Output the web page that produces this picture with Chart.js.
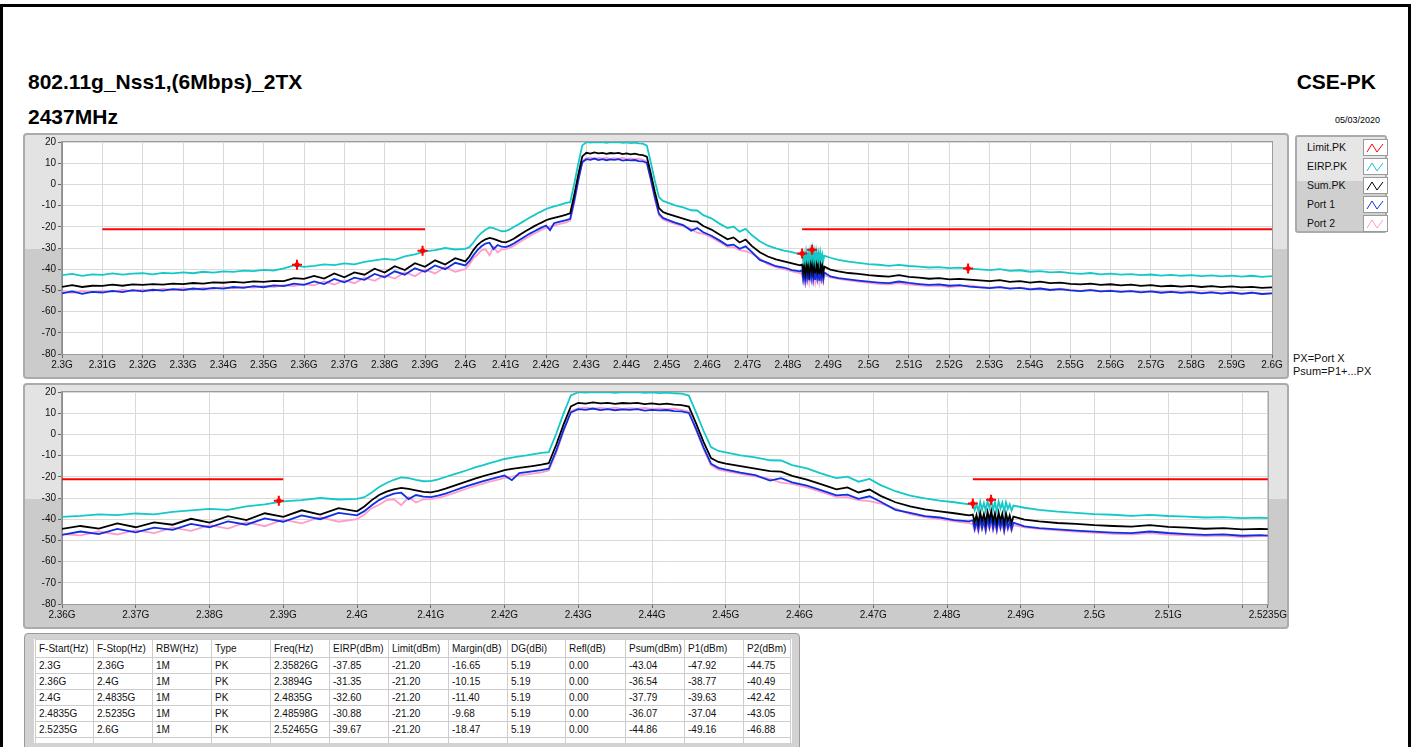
<!DOCTYPE html>
<html>
<head>
<meta charset="utf-8">
<script src="https://cdn.jsdelivr.net/npm/chart.js@4.4.1/dist/chart.umd.min.js"></script>
<style>
  body { margin: 0; width: 1415px; height: 747px; overflow: hidden; background: #fff; position: relative; font-family: "Liberation Sans", Arial, sans-serif; }
  .abs { position: absolute; }
  .frame { left: 0; top: 4px; width: 1405px; height: 760px; border: 3px solid #000; border-bottom: none; }
  .title { font-weight: bold; font-size: 21px; line-height: 24px; white-space: nowrap; }
  .panel { box-sizing: border-box; border: 2px solid #ababab; border-radius: 4px; background: linear-gradient(#e3e3e3 0, #e3e3e3 114px, #cbcbcb 114px); }
  .legend { left: 1295px; top: 135px; width: 92px; height: 98px; box-sizing: border-box; border: 2px solid #ababab; border-radius: 3px; background: linear-gradient(#e6e6e6 0, #e6e6e6 44px, #cfcfcf 44px); }
  .legend .row { position: absolute; left: 10px; height: 19px; font-size: 10.5px; line-height: 19px; color: #111; }
  .legend svg { position: absolute; left: 56px; top: 1px; background: #fff; border: 1px solid #9a9a9a; }
  .note { font-size: 11px; line-height: 13px; color: #111; white-space: nowrap; }
  .tbox { left: 24px; top: 633px; width: 776px; height: 120px; box-sizing: border-box; border: 1px solid #9a9a9a; border-radius: 4px; background: #d2d2d2; }
  .tinner { left: 34px; top: 639px; width: 758px; height: 104px; background: #fff; overflow: hidden; }
  table { border-collapse: collapse; table-layout: fixed; font-size: 10px; color: #111; margin-left: 1px; }
  td { border: 1px solid #cdcdcd; padding: 0 0 0 3px; height: 15px; line-height: 14px; white-space: nowrap; overflow: hidden; }
  tr.head td { height: 17px; }
</style>
</head>
<body>
<div class="abs frame"></div>
<div class="abs title" style="left:28px; top:70px;">802.11g_Nss1,(6Mbps)_2TX</div>
<div class="abs title" style="left:28px; top:105px;">2437MHz</div>
<div class="abs title" style="right:39px; top:70px;">CSE-PK</div>
<div class="abs" style="right:35px; top:115px; font-size:9px; line-height:11px;">05/03/2020</div>

<div class="abs panel" style="left:23px; top:133px; width:1266px; height:246px;"></div>
<canvas id="topChart" class="abs" style="left:24px; top:134px;" width="1264" height="245"></canvas>

<div class="abs panel" style="left:23px; top:383px; width:1266px; height:246px;"></div>
<canvas id="bottomChart" class="abs" style="left:24px; top:384px;" width="1264" height="245"></canvas>

<div class="abs legend" id="legend"></div>
<div class="abs note" style="left:1293px; top:352px;">PX=Port X</div>
<div class="abs note" style="left:1293px; top:365px;">Psum=P1+...PX</div>

<div class="abs tbox"></div>
<div class="abs tinner"><table id="peakTable"></table></div>

<script>
// Frequency points of the sweep (GHz)
const freqGHz = [
  2.3, 2.3025, 2.305, 2.3075, 2.31, 2.3125, 2.315, 2.3175, 2.32, 2.3225, 2.325, 2.3275, 2.33, 2.3325, 2.335, 2.3375, 2.34, 2.3425, 2.345, 2.3475, 2.35, 2.3525, 2.355, 2.3575, 2.36, 2.3625, 2.365, 2.3675, 2.37, 2.3725, 2.375, 2.3775, 2.38, 2.3825, 2.385, 2.3875, 2.39, 2.3925, 2.395, 2.3975, 2.4,
  2.401, 2.402, 2.403, 2.404, 2.405, 2.406, 2.407, 2.408, 2.409, 2.41, 2.411, 2.412, 2.413, 2.414, 2.415, 2.416, 2.417, 2.418, 2.419, 2.42, 2.421, 2.422, 2.423, 2.424, 2.425,
  2.426, 2.427, 2.428, 2.429, 2.43, 2.431, 2.432, 2.433, 2.434, 2.435, 2.436, 2.437, 2.438, 2.439, 2.44, 2.441, 2.442, 2.443, 2.444, 2.445, 2.446, 2.447, 2.448,
  2.449, 2.45, 2.452, 2.454, 2.456, 2.4575, 2.459, 2.461, 2.463, 2.465, 2.4665, 2.468, 2.4695, 2.471, 2.473, 2.475, 2.477, 2.479, 2.481, 2.483,
  2.4835, 2.48375, 2.484, 2.48425, 2.4845, 2.48475, 2.485, 2.48525, 2.4855, 2.48575, 2.486, 2.48625, 2.4865, 2.48675, 2.487, 2.48725, 2.4875, 2.48775, 2.488, 2.48825, 2.4885, 2.48875, 2.489,
  2.4905, 2.4925, 2.495, 2.4975, 2.5, 2.5025, 2.505, 2.5075, 2.51, 2.5125, 2.515, 2.5175, 2.52, 2.5225, 2.525, 2.5275, 2.53, 2.5325, 2.535, 2.5375, 2.54, 2.5425, 2.545, 2.5475, 2.55, 2.5525, 2.555, 2.5575, 2.56, 2.5625, 2.565, 2.5675, 2.57, 2.5725, 2.575, 2.5775, 2.58, 2.5825, 2.585, 2.5875, 2.59, 2.5925, 2.595, 2.5975, 2.6
];

// EIRP.PK (dBm)
const eirpPk = [
  -42.8, -42.2, -43.1, -42.4, -42.7, -42.0, -42.6, -42.1, -41.9, -42.4, -41.7, -42.0, -41.5, -41.9, -41.2, -41.6, -41.0, -41.3, -40.7, -40.9, -40.3, -40.6, -39.6, -38.2, -38.9, -38.4, -37.7, -38.1, -37.3, -37.7, -36.5, -35.8, -35.1, -35.6, -34.0, -33.0, -31.6, -31.0, -30.0, -30.7, -30.4,
  -29.6, -27.4, -24.8, -22.9, -21.4, -20.3, -20.6, -21.4, -22.1, -22.0, -21.2, -20.1, -19.0, -17.9, -16.8, -15.6, -14.6, -13.5, -12.6, -11.6, -11.0, -10.4, -9.9, -9.3, -8.7,
  -8.4, 0.2, 9.8, 18.4, 19.9, 19.7, 20.0, 19.8, 19.9, 19.6, 19.9, 19.8, 19.9, 19.6, 19.8, 19.5, 19.7, 19.4, 19.2, 18.3, 10.2, 1.6, -6.0,
  -7.8, -8.5, -9.9, -10.8, -12.2, -12.3, -14.5, -16.0, -18.5, -20.6, -19.9, -22.3, -21.0, -23.9, -26.8, -28.9, -30.2, -31.2, -32.0, -33.0,
  -32.6, -35.8, -33.0, -36.2, -31.8, -35.4, -32.4, -36.0, -31.4, -34.8, -30.9, -35.6, -32.0, -36.2, -31.6, -35.0, -32.2, -36.4, -32.0, -35.2, -33.0, -36.0, -33.6,
  -34.6, -35.6, -36.4, -37.0, -37.6, -37.9, -38.4, -38.0, -38.5, -38.8, -39.2, -39.0, -39.5, -39.3, -39.7, -40.1, -40.4, -40.0, -40.8, -40.5, -41.2, -40.9, -41.5, -41.3, -41.9, -42.2, -41.8, -42.4, -42.1, -42.6, -42.3, -42.8, -42.5, -43.0, -42.7, -43.1, -42.8, -43.3, -42.9, -43.4, -43.0, -43.5, -43.1, -43.6, -43.3
];

// Sum.PK (dBm)
const sumPk = [
  -48.3, -47.5, -48.4, -47.8, -47.9, -47.3, -47.8, -47.2, -47.4, -47.0, -47.3, -46.8, -47.0, -46.5, -46.8, -46.2, -46.4, -46.0, -46.3, -45.7, -46.0, -45.5, -45.6, -44.2, -44.6, -43.2, -44.4, -42.0, -43.8, -41.5, -42.6, -39.8, -41.6, -38.6, -40.4, -37.2, -38.9, -35.8, -37.8, -34.8, -36.3,
  -34.0, -31.0, -28.6, -27.0, -25.9, -25.2, -25.7, -26.4, -27.1, -27.3, -26.6, -25.6, -24.4, -23.2, -22.0, -20.9, -19.8, -18.8, -17.9, -16.9, -16.3, -15.8, -15.3, -14.8, -14.3,
  -13.6, -5.0, 4.6, 13.2, 14.9, 14.5, 15.1, 14.6, 14.9, 14.4, 14.8, 14.6, 14.9, 14.3, 14.6, 14.2, 14.5, 14.0, 13.8, 13.1, 5.0, -3.6, -11.2,
  -13.0, -13.8, -15.0, -16.1, -17.3, -17.6, -19.6, -21.3, -23.6, -25.9, -25.0, -27.4, -26.0, -29.0, -32.0, -34.0, -35.4, -36.3, -37.2, -38.2,
  -37.8, -41.4, -38.0, -42.0, -36.8, -41.0, -37.6, -41.8, -36.6, -40.4, -36.1, -41.2, -37.2, -42.0, -36.8, -40.8, -37.4, -42.2, -37.2, -41.0, -38.2, -41.8, -38.8,
  -40.2, -41.0, -41.8, -42.2, -42.8, -43.2, -43.5, -42.8, -43.6, -44.0, -44.5, -44.2, -44.8, -44.6, -44.9, -45.3, -45.6, -45.2, -46.0, -45.6, -46.3, -45.9, -46.6, -46.3, -46.9, -47.2, -46.8, -47.4, -47.1, -47.6, -47.3, -47.9, -47.5, -48.1, -47.8, -48.2, -47.9, -48.4, -48.0, -48.5, -48.1, -48.6, -48.3, -48.8, -48.6
];

// Port 1 (dBm)
const port1 = [
  -51.4, -50.5, -51.6, -50.7, -51.0, -50.2, -50.8, -49.9, -50.5, -49.7, -50.1, -49.4, -49.9, -49.1, -49.5, -48.8, -49.2, -48.4, -48.8, -48.0, -48.5, -47.6, -48.0, -46.8, -47.4, -45.8, -47.0, -44.6, -46.2, -44.0, -45.0, -42.2, -43.8, -41.0, -42.6, -39.6, -41.2, -38.2, -40.0, -37.0, -38.2,
  -36.2, -33.4, -31.0, -29.2, -27.9, -27.5, -30.5, -28.6, -29.4, -29.6, -28.9, -27.9, -26.7, -25.5, -24.3, -23.2, -22.2, -21.2, -20.3, -19.4, -21.6, -18.3, -17.8, -17.3, -16.8,
  -16.2, -7.8, 2.0, 10.4, 11.9, 11.6, 12.2, 11.5, 11.9, 11.4, 11.8, 11.6, 11.9, 11.2, 11.6, 11.3, 11.5, 11.0, 10.9, 10.1, 2.4, -6.2, -13.8,
  -15.8, -16.6, -18.0, -19.2, -21.8, -20.6, -22.6, -24.2, -26.4, -28.8, -28.4, -30.4, -29.2, -31.8, -35.6, -37.0, -38.6, -39.2, -40.4, -41.0,
  -40.5, -44.6, -41.0, -45.0, -39.8, -44.2, -40.6, -45.2, -39.6, -43.8, -39.0, -44.4, -40.2, -45.0, -39.8, -44.0, -40.4, -45.4, -40.2, -44.2, -41.2, -44.8, -41.6,
  -43.4, -44.2, -44.8, -45.4, -45.9, -46.3, -46.6, -45.8, -46.5, -47.0, -47.4, -47.2, -47.8, -47.5, -48.2, -48.6, -48.9, -48.5, -49.2, -48.8, -49.5, -49.1, -49.8, -49.4, -50.0, -50.3, -49.9, -50.5, -50.2, -50.7, -50.3, -50.9, -50.5, -51.1, -50.7, -51.2, -50.8, -51.4, -50.9, -51.5, -51.0, -51.6, -51.1, -51.7, -51.4
];

// Port 2 (dBm)
const port2 = [
  -50.6, -51.2, -50.3, -50.9, -50.2, -50.7, -49.8, -50.4, -49.6, -50.2, -49.3, -49.8, -49.0, -49.6, -48.8, -49.3, -48.5, -49.0, -48.2, -48.7, -47.9, -48.4, -47.5, -48.0, -47.0, -47.6, -45.8, -47.2, -45.2, -46.6, -44.0, -45.5, -42.8, -44.4, -41.4, -43.3, -40.2, -42.0, -39.0, -41.2, -40.0,
  -37.8, -34.8, -33.2, -31.0, -30.6, -33.4, -29.6, -32.1, -30.6, -30.5, -29.9, -29.0, -27.8, -26.6, -25.4, -24.3, -23.3, -22.3, -21.4, -20.5, -19.9, -19.3, -18.9, -18.4, -17.9,
  -17.0, -8.8, 1.4, 11.0, 12.3, 12.6, 12.1, 12.5, 12.2, 12.6, 12.0, 12.4, 12.1, 12.5, 12.0, 12.3, 11.9, 12.1, 11.6, 10.8, 1.8, -7.0, -14.6,
  -16.6, -17.3, -18.6, -19.8, -21.0, -22.8, -23.3, -25.0, -27.2, -29.5, -29.6, -31.0, -31.5, -32.6, -35.0, -37.6, -39.0, -40.0, -41.0, -41.8,
  -42.4, -45.4, -42.8, -46.0, -41.6, -45.0, -42.2, -45.8, -41.2, -44.6, -41.8, -45.2, -42.0, -45.8, -41.4, -44.8, -42.0, -46.0, -41.8, -45.0, -42.6, -45.6, -42.8,
  -43.9, -44.6, -45.3, -45.8, -46.4, -46.9, -47.2, -46.6, -47.3, -47.6, -48.0, -47.7, -48.4, -48.0, -47.6, -48.3, -48.7, -48.4, -49.0, -48.7, -49.3, -49.0, -49.6, -49.2, -49.8, -50.2, -49.7, -50.4, -50.0, -50.5, -50.1, -50.7, -50.3, -50.9, -50.5, -51.0, -50.6, -51.2, -50.7, -51.3, -50.9, -51.4, -51.0, -51.6, -51.3
];

// Peak markers (from the result table)
const peakFreqGHz = [2.35826, 2.3894, 2.4835, 2.48598, 2.52465];
const peakEirp = [-37.85, -31.35, -32.60, -30.88, -39.67];

// Limit line segments
const limitStartGHz = [2.31, 2.4835];
const limitStopGHz = [2.39, 2.6];
const limitLevel = -21.2;

// Axis ticks
const topTicksGHz = [2.30, 2.31, 2.32, 2.33, 2.34, 2.35, 2.36, 2.37, 2.38, 2.39, 2.40, 2.41, 2.42, 2.43, 2.44, 2.45, 2.46, 2.47, 2.48, 2.49, 2.50, 2.51, 2.52, 2.53, 2.54, 2.55, 2.56, 2.57, 2.58, 2.59, 2.60];
const bottomTicksGHz = [2.36, 2.37, 2.38, 2.39, 2.40, 2.41, 2.42, 2.43, 2.44, 2.45, 2.46, 2.47, 2.48, 2.49, 2.50, 2.51, 2.52, 2.5235];
const bottomHiddenLabels = [2.52];

// Legend
const legendNames = ['Limit.PK', 'EIRP.PK', 'Sum.PK', 'Port 1', 'Port 2'];
const legendColors = ['#ff0000', '#14c8c8', '#000000', '#1030e0', '#ff9ccc'];

// Result table
const tableHead = ['F-Start(Hz)', 'F-Stop(Hz)', 'RBW(Hz)', 'Type', 'Freq(Hz)', 'EIRP(dBm)', 'Limit(dBm)', 'Margin(dB)', 'DG(dBi)', 'Refl(dB)', 'Psum(dBm)', 'P1(dBm)', 'P2(dBm)'];
const colStart = ['2.3G', '2.36G', '2.4G', '2.4835G', '2.5235G'];
const colStop = ['2.36G', '2.4G', '2.4835G', '2.5235G', '2.6G'];
const colRbw = ['1M', '1M', '1M', '1M', '1M'];
const colType = ['PK', 'PK', 'PK', 'PK', 'PK'];
const colFreq = ['2.35826G', '2.3894G', '2.4835G', '2.48598G', '2.52465G'];
const colEirp = ['-37.85', '-31.35', '-32.60', '-30.88', '-39.67'];
const colLimit = ['-21.20', '-21.20', '-21.20', '-21.20', '-21.20'];
const colMargin = ['-16.65', '-10.15', '-11.40', '-9.68', '-18.47'];
const colDg = ['5.19', '5.19', '5.19', '5.19', '5.19'];
const colRefl = ['0.00', '0.00', '0.00', '0.00', '0.00'];
const colPsum = ['-43.04', '-36.54', '-37.79', '-36.07', '-44.86'];
const colP1 = ['-47.92', '-38.77', '-39.63', '-37.04', '-49.16'];
const colP2 = ['-44.75', '-40.49', '-42.42', '-43.05', '-46.88'];
const colWidths = [58, 59, 59, 59, 59, 59, 60, 59, 58, 60, 59, 59, 47];

function toPoints(values) {
    return freqGHz.map((f, i) => ({ x: f, y: values[i] }));
}

function limitPoints() {
    const pts = [];
    for (let i = 0; i < limitStartGHz.length; i++) {
        pts.push({ x: limitStartGHz[i], y: limitLevel });
        pts.push({ x: limitStopGHz[i], y: limitLevel });
        pts.push({ x: limitStopGHz[i], y: null });
    }
    return pts;
}

const peakPoints = peakFreqGHz.map((f, i) => ({ x: f, y: peakEirp[i] }));

// white plot area and grey frame round it
const plotFrame = {
    id: 'plotFrame',
    beforeDraw(chart) {
        const a = chart.chartArea, c = chart.ctx;
        c.save();
        c.fillStyle = '#ffffff';
        c.fillRect(a.left, a.top, a.right - a.left, a.bottom - a.top);
        c.restore();
    },
    beforeDatasetsDraw(chart) {
        const a = chart.chartArea, c = chart.ctx;
        c.save();
        c.strokeStyle = '#9c9c9c';
        c.lineWidth = 1;
        c.strokeRect(a.left - 0.5, a.top - 0.5, a.right - a.left + 1, a.bottom - a.top + 1);
        c.restore();
    }
};

function gLabel(v) {
    return parseFloat(Number(v).toFixed(4)) + 'G';
}

function makeChart(id, xMin, xMax, tickList, hidden) {
    const ctx = document.getElementById(id).getContext('2d');
    return new Chart(ctx, {
        type: 'line',
        data: {
            datasets: [
                { data: peakPoints, showLine: false, pointStyle: 'cross', pointRadius: 5, pointBorderWidth: 2, borderColor: '#ff0000', backgroundColor: '#ff0000' },
                { data: peakPoints, showLine: false, pointStyle: 'circle', pointRadius: 2.5, pointBorderWidth: 0, borderColor: '#ff0000', backgroundColor: '#ff0000' },
                { data: limitPoints(), borderColor: legendColors[0], backgroundColor: legendColors[0], borderWidth: 2, pointRadius: 0, spanGaps: false },
                { data: toPoints(eirpPk), borderColor: legendColors[1], borderWidth: 1.8, pointRadius: 0 },
                { data: toPoints(sumPk), borderColor: legendColors[2], borderWidth: 1.8, pointRadius: 0 },
                { data: toPoints(port1), borderColor: legendColors[3], borderWidth: 1.8, pointRadius: 0 },
                { data: toPoints(port2), borderColor: legendColors[4], borderWidth: 1.8, pointRadius: 0 }
            ]
        },
        options: {
            responsive: false,
            devicePixelRatio: 1,
            animation: false,
            events: [],
            layout: { autoPadding: false, padding: { left: 0, right: 16, top: 7, bottom: 0 } },
            plugins: { legend: { display: false }, tooltip: { enabled: false } },
            elements: { line: { tension: 0 } },
            scales: {
                x: {
                    type: 'linear',
                    min: xMin,
                    max: xMax,
                    afterBuildTicks: (axis) => { axis.ticks = tickList.map(v => ({ value: v })); },
                    afterFit: (axis) => { axis.height = 25; },
                    grid: { color: '#dadada', tickColor: '#666', tickLength: 4, lineWidth: 1 },
                    border: { color: '#8a8a8a' },
                    ticks: {
                        autoSkip: false, maxRotation: 0, padding: 1, color: '#111',
                        font: { family: 'Liberation Sans', size: 10 },
                        callback: (v) => hidden.includes(v) ? '' : gLabel(v)
                    }
                },
                y: {
                    min: -80,
                    max: 20,
                    afterFit: (axis) => { axis.width = 38; },
                    grid: { color: '#dadada', tickColor: '#666', tickLength: 4 },
                    border: { color: '#8a8a8a' },
                    ticks: { stepSize: 10, padding: 2, color: '#111', font: { family: 'Liberation Sans', size: 10 } }
                }
            }
        },
        plugins: [plotFrame]
    });
}

makeChart('topChart', 2.3, 2.6, topTicksGHz, []);
makeChart('bottomChart', 2.36, 2.5235, bottomTicksGHz, bottomHiddenLabels);

// legend box
const legendBox = document.getElementById('legend');
legendNames.forEach((name, i) => {
    const row = document.createElement('div');
    row.className = 'row';
    row.style.top = (1 + i * 19) + 'px';
    row.style.width = '82px';
    row.innerHTML = name +
        '<svg width="23" height="15"><polyline points="3,12 8,4 13,12 19,4" fill="none" stroke="' +
        legendColors[i] + '" stroke-width="1"/></svg>';
    legendBox.appendChild(row);
});

// result table
const table = document.getElementById('peakTable');
const colgroup = document.createElement('colgroup');
colWidths.forEach(w => {
    const col = document.createElement('col');
    col.style.width = w + 'px';
    colgroup.appendChild(col);
});
table.appendChild(colgroup);
const head = document.createElement('tr');
head.className = 'head';
tableHead.forEach(t => { const td = document.createElement('td'); td.textContent = t; head.appendChild(td); });
table.appendChild(head);
const columns = [colStart, colStop, colRbw, colType, colFreq, colEirp, colLimit, colMargin, colDg, colRefl, colPsum, colP1, colP2];
for (let r = 0; r < colStart.length + 1; r++) {
    const tr = document.createElement('tr');
    columns.forEach(col => {
        const td = document.createElement('td');
        td.textContent = r < col.length ? col[r] : '';
        tr.appendChild(td);
    });
    table.appendChild(tr);
}
</script>
</body>
</html>
